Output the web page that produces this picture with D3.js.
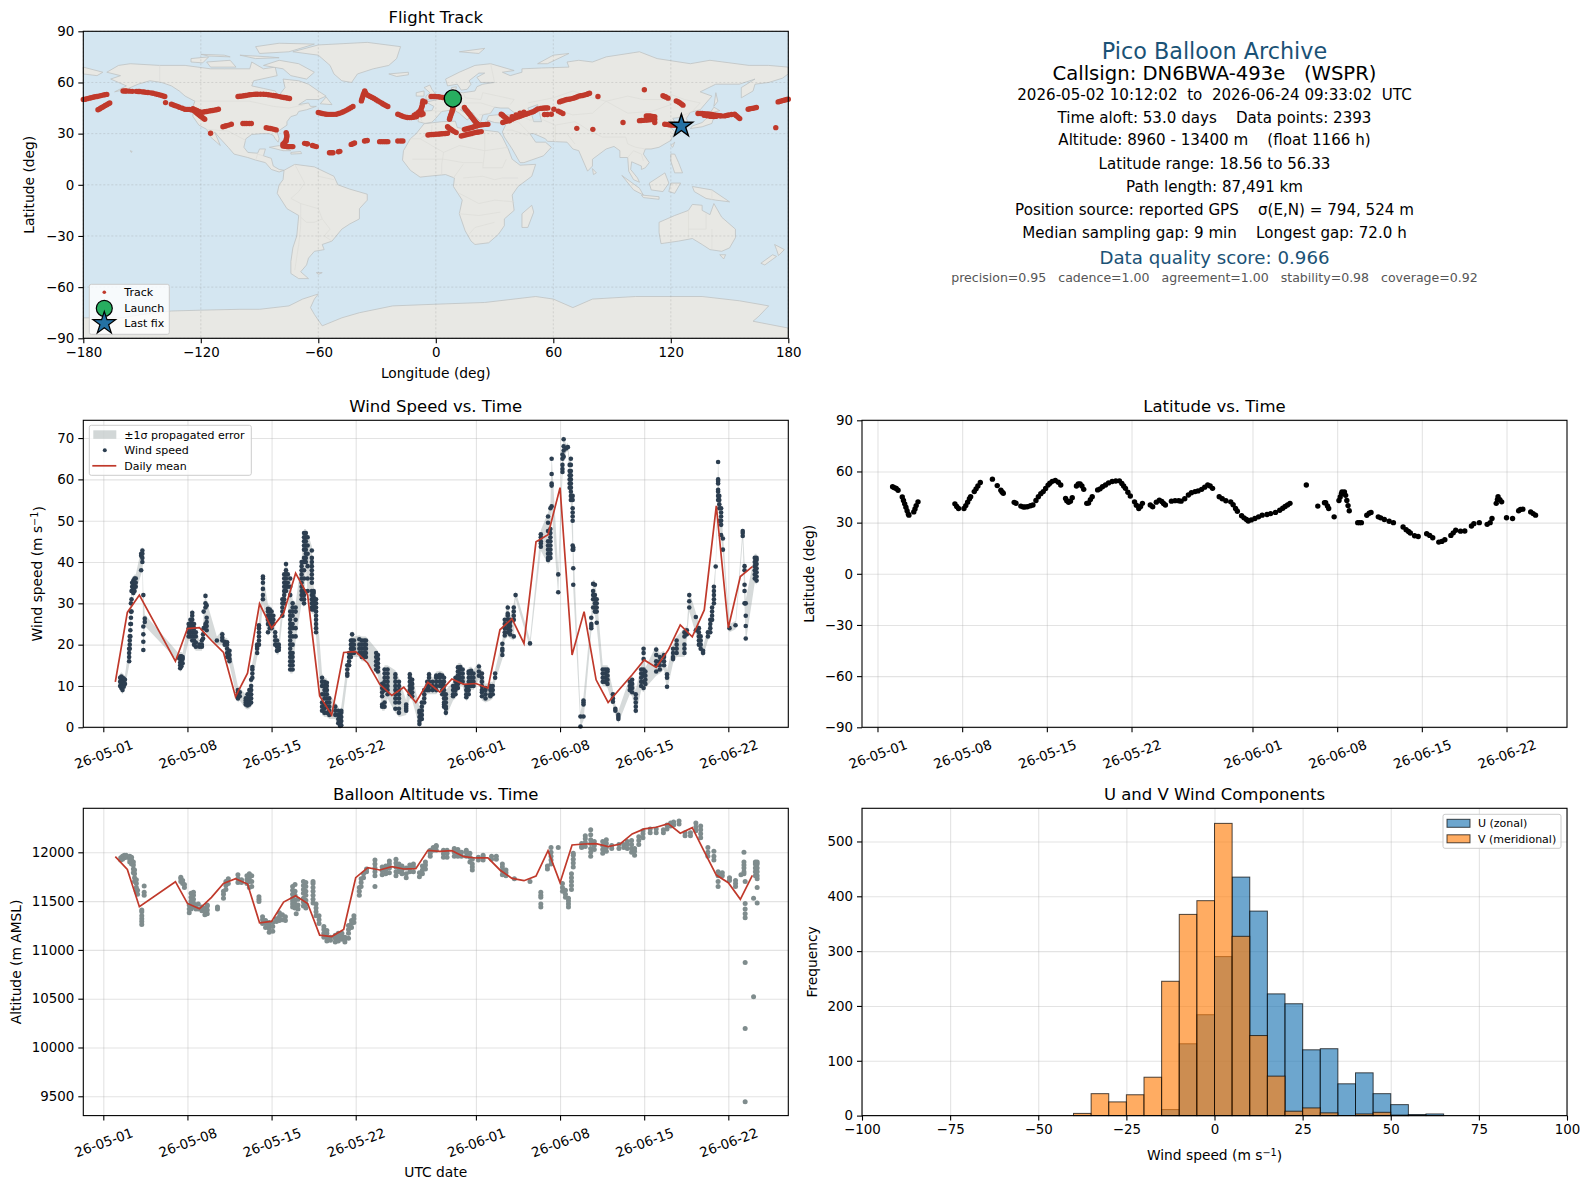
<!DOCTYPE html>
<html>
<head>
<meta charset="utf-8">
<script src="https://cdn.jsdelivr.net/npm/d3@7"></script>
<style>
  body { margin: 0; background: #fff; }
  svg { display: block; }
  text { font-family: "DejaVu Sans", sans-serif; fill: #000; white-space: pre; }
  .axis text { font-size: 13.4px; }
  .axis path, .axis line { stroke: #000; stroke-width: 1.1; }
  .grid line { stroke: #b0b0b0; stroke-opacity: 0.35; stroke-width: 1.1; }
  .grid path { display: none; }
  .grid text { display: none; }
  .title { font-size: 16.5px; text-anchor: middle; }
  .label { font-size: 13.8px; text-anchor: middle; }
  .legendText { font-size: 11px; }
  .legendBox { fill: #fff; fill-opacity: 0.8; stroke: #ccc; stroke-width: 1; }
</style>
</head>
<body>
<svg id="chart" width="1590" height="1189"></svg>
<script>
// ---- data ----
// wind speed columns: [day since 05-01, [speeds]]
const windColumns = [
  [1.4,[10,11,12]],[1.5,[9.5,10.5,11.5,12.3]],[1.6,[9,10,11,12]],[1.7,[9.8,10.8,11.8]],[1.8,[10.5,11.5]],
  [2.15,[16,17,18,19]],[2.2,[19,20,21,22]],[2.25,[22,23.5,25]],[2.3,[25,26.5,28,30]],[2.35,[28,31,33]],[2.4,[33,34,35]],[2.5,[32.5,33.5,34.5,35.5]],[2.6,[33,34,35,36]],[2.7,[34,35,36]],
  [3.15,[38,41.5,42]],[3.25,[40,41,42,42.8]],[3.33,[18.7,20.7,22.5,24.4,32]],[3.45,[25.5,26.3]],
  [6.3,[16.8]],[6.4,[14.3,15,15.7,16.5,17.2]],[6.5,[14.8,15.8,16.8,17.2]],[6.6,[15.5,16.5,17]],
  [7.1,[22,23,24,25]],[7.25,[22,23,24,25,26]],[7.4,[21,22,23,24,25,26,27,27.7]],[7.55,[20,21,22,23,24,25]],[7.7,[19.5,20.5,22,23]],
  [8,[19.5,20]],[8.2,[19.5,20,21]],[8.3,[21.5,22.5]],[8.35,[24,28]],[8.5,[24.5,25,29,30,31.8]],[8.6,[23.5,24.5,25.5,26.5,29.5]],
  [9.45,[21]],[9.9,[21,21.7,22.5]],[10.1,[20,20.7]],[10.3,[17,18,19,20,20.6]],[10.5,[16,16.5,17.5,18.5]],
  [11.2,[7,7.5,8,8.5,9]],[11.35,[7.5,8.5]],
  [11.85,[5.5,6,6.5,7]],[12,[5.3,5.8,6.3,7,8]],[12.15,[5.5,6.2,7,8,9]],[12.3,[6,7,8,9,10,11.5]],[12.4,[12,13,14,14.6]],
  [12.8,[18,19,19.5,20]],[12.95,[20,21,22,23,24,24.7]],[13.28,[31,32,33.5,35,36,36.5]],
  [13.7,[23,25,26,27,28,28.7]],[13.85,[24,25,26,27,28,28.5]],[14,[24,25,26,27,28]],[14.15,[25,26,27]],
  [14.3,[20,21,22,23]],[14.45,[18.5,19.5,21]],[14.6,[18.7,19.3,20]],
  [14.9,[27,28,29,30,31]],[15.05,[30,31,32,33,34,35,36,37]],[15.2,[33,34,35,36,37,38,39.5]],[15.35,[34,35,37]],
  [15.55,[14,15,16,17,18,19,20,21,22,23,24,25,26,27,28,32,34,36]],[15.75,[14,15,16,17,18,20,22,24,25,27,28,29,30]],[16,[22,24,26,28,29]],
  [16.5,[31,32,33,34,35,36,37,38,39,40]],[16.7,[30,31,32,33,36,38,40,41,43,44,45,46,47]],[16.85,[40,41,42,43,44,45,46,47]],[17,[33,36,39,42,44,46]],
  [17.35,[28.5,29,30,31,32,33,35,36,37,38,39,40,41,42.8]],[17.5,[28.5,29.5,30.5,31.5,32.5,33]],[17.7,[23,24,25,26,27,28,29,30,31]],
  [18.2,[4,5,6,8,10,11,12]],[18.4,[3.5,4.5,5.5,7,8,9,10,11]],[18.6,[3.5,5,6,7,8,9,10,10.8]],[18.8,[3,4,5,6,7]],
  [19.3,[3,4,5]],[19.55,[1,2,3,4]],[19.7,[0.3,1,2,3]],[19.8,[0.5,1.5,2.5,3.5,4]],
  [20.3,[12.5,13,14,15]],[20.45,[15,16,17,18]],[20.6,[17,18,19,20,21]],[20.7,[18,19,20,21,22.5]],[20.85,[18,19,20,21]],
  [21.3,[18,19,20,21.3]],[21.5,[17,18,19,20,21]],[21.7,[17,18,19,20,21]],[21.85,[17,18,19,20,21]],
  [22.7,[14,15,16,17,18]],[22.85,[13.5,14.5,15.5,16.5,17.5]],
  [23.2,[5,5.5,7.5,8.5,9.5,10.5]],[23.4,[5,6,9,10,11,12,13,14]],[23.65,[8,9,10,11,12,13,14]],
  [24.3,[4.5,6,7,8,9,10,11,12,12.8]],[24.6,[3.5,4.5,6,7,8,9,10,11]],
  [25.2,[4,4.5,5,5.5]],[25.5,[8,9,10,11,12,12.8]],[25.7,[7.5,8.5,9.5,10.5,11.5]],
  [26.3,[0.8,1.5,2.5,3.5,4]],[26.5,[2,3,4,5,6]],[26.7,[6,7,8,9]],
  [26.95,[9,10,11]],[27.1,[9,10,11,12,12.8]],[27.4,[9,10,11]],[27.7,[9,10,11,12,12.5]],[28,[10,11,12,12.7]],
  [28.2,[8,9,10,11,12.5]],[28.35,[5,5.5,6,7,8,9,10,11,12]],[28.5,[3.5,4.5,5,6,7,8]],
  [29.1,[7.5,8,9,10]],[29.3,[8,9,10,11,12]],[29.5,[9.5,10.5,11.5,12.5,13.5,14.5]],[29.7,[11,12,13,14,14.6]],[29.9,[11,12,13,14]],
  [30.2,[7.3,8,9,10]],[30.4,[8,9,10,11,12,13,13.5]],[30.6,[10,11,12,13,13.7]],[30.8,[10,11,12,13]],
  [31.25,[12.5,13.5,14.7]],[31.5,[7.5,8.5,9,10,11,12,13]],[31.8,[7,8,9,9.5]],
  [32.2,[7.5,8,9,10]],[32.4,[8,9,10]],[32.6,[12,13]],
  [33.2,[17.5,18.5,19,20.2]],[33.4,[22.2,23,24,25,26]],[33.65,[23,24,25,26,27,27.5,29]],[33.85,[22.5,23.5,24.5,25.5,26]],
  [34.15,[22,26,27,28,29]],[34.3,[32]],[35.5,[20.3]],
  [36.4,[43.7,44.5,45,46,46.7]],[37,[40.5,41,42,43,44,45,47.5,49.5,51]],[37.2,[41,42,43,44,45,46,47,48,53]],
  [37.3,[53.5,58.5,59,61.3,65]],[37.85,[32.7,37]],
  [38.2,[61.8,62.5,63.5,65,66]],[38.3,[65.5,67,68,69.7]],[38.5,[67.5]],[38.65,[67.8]],
  [38.8,[58,59,60,61,62,63.5]],[38.9,[55,56,57,58,59,60,61,62,63.5,65]],[39.05,[43,44,50,51,52,53,55,56]],[39.1,[34.5,38.5,43,43.5]],
  [39.7,[0.2,2.6]],[39.95,[2.6,5.5,6,6.5]],
  [40.6,[24,24.5,25,26.5]],[40.75,[29,31,32,33,34.7]],[40.9,[28,29,30,31,32,34.5]],[41.05,[25.3,28,29,30,31]],
  [41.55,[11,12,13,14]],[41.75,[11,12,13,14]],[41.95,[10.5,11.5,12.5,13.5,14]],
  [42.4,[6.2,7,8]],[42.6,[4,4.5]],[42.85,[2,2.5,3]],
  [43.8,[9,10,11]],[44,[8.5,9.5,10.5,11.5]],[44.3,[4,5,6,7,8]],
  [44.75,[10,11,12,13,14]],[44.95,[9.5,11,12.5,13,14,16.5,18,19]],[45.1,[10.5,11.5,12.5,13.5]],
  [46,[13.5,15,16,17.5,18.8]],[46.3,[14,15,16,17]],[46.65,[15,16,17,17.5]],[46.9,[9.8,12,12.8]],
  [47.4,[16.5,17,18,19]],[47.7,[18,19,20,21]],[48.35,[18,19,20,22,23]],[48.55,[22.5,23.5]],[48.75,[29,30.5,32]],
  [49.3,[23.5,26.7]],[49.55,[20,21,22,23,24]],[49.7,[19,20,21,22]],[49.9,[18,18.5]],
  [50.3,[22,23]],[50.5,[23,24,25,26]],[50.65,[26,27,28,29]],[50.8,[30,31,32,33,34]],[50.95,[38.9]],
  [51.15,[55,56,57,57.5,59,59.6,60,64.2]],[51.25,[50,53,54,55,56]],[51.4,[46.5,49,50,51,52,53]],[51.55,[43,45.7]],
  [52.1,[24]],[52.6,[24.7]],
  [53.2,[46.3,47,47.5]],[53.35,[30,33,34.5,38,39]],[53.45,[21.5,24.5,27,30]],
  [54.2,[36,37,38,39,40,41]],[54.35,[35.5,36.5,37.5,38.5,39.5,40.5,41]]
]

const windMeanDays = [1,2,3,6,7,8,9,10,11,12,13,14,15,16,17,18,19,20,21,22,23,24,25,26,27,28,29,30,31,32,33,34,35,36,37,38,39,40,41,42,43,44,45,46,47,48,49,50,51,52,53,54]
const windMean = [11,27.8,32,16,23.9,24.1,21,18.1,7.4,13.1,29.9,24,27.6,37.3,32,7.6,3,18.1,18.3,15.5,10.4,7.7,9.7,6,10.9,8.5,11.7,10.4,10.6,9.5,23.6,26.3,20.3,44.9,46.6,58,17.5,28,11.5,6,9.4,12.7,16.3,14.5,18.7,24.8,21.9,28.4,53.6,24.1,36.5,38.9]

// altitude columns: [day, [metres]]
const altColumns = [
  [1.45,[11920,11945]],[1.6,[11930,11960]],[1.75,[11945,11970]],[1.9,[11950,11970]],
  [2.2,[11900,11930,11960]],[2.35,[11880,11920,11950]],[2.5,[11790,11830,11870,11900]],[2.6,[11700,11740,11780,11820]],[2.75,[11600,11640,11680,11720]],[2.85,[11570,11610]],
  [3.2,[11260,11290,11320,11350,11390,11410]],[3.4,[11560,11590,11655]],
  [6.45,[11700,11730,11745]],[6.6,[11680,11710]],[6.75,[11640,11670]],
  [7.15,[11380,11420,11460]],[7.3,[11420,11460,11500,11540,11580]],[7.5,[11440,11480,11520,11560,11590]],
  [7.7,[11420,11460]],[7.9,[11420,11470]],[8.2,[11400,11440]],[8.45,[11360,11400,11430]],[8.65,[11370,11410,11450,11460]],
  [9.5,[11420,11440]],[10,[11530,11570,11600]],[10.2,[11620,11660,11700]],[10.4,[11680,11730]],
  [11.2,[11690,11730,11770]],[11.5,[11690,11720]],[11.95,[11680,11720,11760]],[12.15,[11640,11700,11740,11780]],[12.35,[11650,11700,11760]],
  [12.95,[11495,11520,11545]],[13.25,[11270,11310,11340]],[13.5,[11230,11270,11300]],[13.8,[11180,11220,11250,11280]],[14.1,[11190,11240,11280]],
  [14.4,[11290,11320]],[14.65,[11300,11340,11380]],[14.9,[11310,11360]],[15.15,[11300,11340]],
  [15.75,[11440,11470,11500,11530,11570,11610,11650]],[15.95,[11430,11470,11510,11560,11600,11670]],[16.05,[11370]],[16.2,[11420,11460,11520]],
  [16.65,[11450,11490,11530,11580,11620,11660,11700]],[16.85,[11430,11470,11510,11560,11600,11650,11690]],
  [17.45,[11480,11520,11560,11600,11640,11680,11700]],[17.7,[11350,11390,11430,11470]],[17.95,[11270,11310,11350]],
  [18.35,[11130,11170,11210,11240]],[18.6,[11090,11130,11170,11200]],[18.9,[11100,11130]],
  [19.3,[11080,11120,11150]],[19.55,[11090,11130,11170]],[19.85,[11110,11140,11170]],[20.1,[11080,11110,11130]],
  [20.4,[11120,11170,11210,11250]],[20.65,[11230,11270,11300]],[20.85,[11280,11320,11350]],
  [21.3,[11560,11600,11640]],[21.45,[11650,11690,11730]],[21.65,[11740,11780]],[21.9,[11800,11830]],
  [22.6,[11650,11760,11800,11840,11880,11920]],[23.2,[11770,11810,11850]],[23.5,[11780,11820,11860]],[23.8,[11790,11840,11880,11910]],
  [24.35,[11760,11800,11850,11890,11930]],[24.6,[11800,11840,11880]],[24.85,[11780,11820,11860]],
  [25.2,[11740,11780,11840]],[25.5,[11800,11840,11870]],[25.8,[11800,11850,11880]],
  [26.3,[11750,11790]],[26.55,[11780,11820,11860]],[26.8,[11830,11870,11900]],
  [27.2,[11960,11990,12020]],[27.45,[12020,12050]],[27.7,[12020,12060,12070]],
  [28.3,[11950,11985,12020]],[28.6,[11950,11990,12020]],[29.2,[11960,12000,12040]],[29.5,[11960,11990,12030]],[29.8,[11960,12000]],
  [30.2,[11960,12000,12020]],[30.5,[11900,11950,11990]],[30.7,[11820,11850,11880,11930]],
  [31.2,[11920,11950]],[31.6,[11920,11950,11970]],[32.3,[11930,11960]],[32.7,[11930,11960]],
  [33.2,[11770,11810,11850,11880]],[33.5,[11760,11790,11820]],[34.2,[11730]],[35.5,[11700]],
  [36.4,[11440,11470,11540,11560,11590]],[36.95,[11830,11860]],[37.25,[11880,11920,11960,12000,12050]],[37.85,[12050]],
  [38.2,[11600,11640,11680]],[38.45,[11540,11570,11610]],[38.7,[11440,11470,11500,11530]],
  [38.95,[11620,11660,11700,11740,11780]],[39.1,[11850,11890,11930,11970,11990]],
  [39.8,[12050,12060,12090]],[40.1,[12060,12100,12140,12170]],[40.55,[11960,12000,12040,12090,12130,12180,12230]],[40.85,[12030,12070,12110]],
  [41.55,[11990,12030,12070,12110]],[41.85,[12010,12050,12090,12130]],[42.3,[12040,12070]],[42.9,[12040,12080]],[43.3,[12050,12080]],
  [43.6,[12040,12080,12110]],[43.95,[12000,12040,12080,12120]],[44.2,[11970,12010,12040]],
  [44.55,[12080,12120,12160]],[44.9,[12150,12190,12220]],[45.5,[12200,12240]],[46,[12200,12240]],
  [46.6,[12200,12230]],[46.9,[12240,12280]],[47.2,[12270,12300]],[47.45,[12280,12310]],[47.9,[12290,12320]],
  [48.4,[12170,12200]],[48.85,[12170,12200]],[49.3,[12220,12260,12300]],[49.7,[12150,12190,12230,12270]],
  [50.3,[11960,12000,12050]],[50.8,[11920,11960,12010]],[51.15,[11650,11700,11760,11800]],[51.5,[11760,11790]],
  [52.1,[11710,11740]],[52.6,[11650,11680,11710]],[53.05,[11770]],
  [53.3,[11780,11800,11840,11870,11900,12000]],[53.4,[9445,10195,10870,11330,11370,11420,11475,11700]],
  [54.1,[10519,11528]],[54.25,[11760,11800,11840,11880,11900]],[54.4,[11480,11640,11730,11760,11800,11840,11880,11900]]
]

const altMeanDays = windMeanDays
const altMean = [11955,11825,11442,11699,11476,11421,11538,11682,11730,11675,11278,11292,11490,11555,11476,11151,11137,11209,11740,11843,11819,11853,11829,11832,12020,12010,12017,11955,11942,11942,11819,11733,11709,11757,12017,11689,12075,12085,12089,12058,12085,12188,12240,12257,12294,12195,12253,12007,11767,11689,11518,11764]

// latitude: [day, deg]
const latPoints = [
  [1.25,51],[1.4,50.5],[1.55,50],[1.7,49],[2.05,45],[2.15,43],[2.25,41],[2.35,39],[2.45,37],[2.55,35],[2.6,34.4],[3,36.3],[3.1,38],[3.2,40],[3.35,42.2],
  [6.4,41],[6.55,39.5],[6.7,38.3],[7.15,38.3],[7.3,40],[7.45,42],[7.6,44],[7.7,45.2],[8,48.2],[8.15,49.8],[8.3,51.5],[8.5,53.5],
  [9.5,55.5],[9.9,51.7],[10.2,49],[10.3,48],[10.4,47.2],[11.3,41.9],[11.45,41.4],[11.85,39.7],[12.05,39.2],[12.2,39.2],[12.4,39.3],
  [12.65,39.9],[12.85,40.3],[13.1,43],[13.3,45.2],[13.5,47],[13.7,48.2],[13.9,50],[14.1,52],[14.25,53.1],[14.45,54.2],[14.7,54.7],[14.95,53.7],[15.15,52.1],
  [15.55,44.2],[15.65,42.8],[15.8,41.9],[15.95,42.6],[16.1,44.6],[16.45,51.5],[16.6,52.7],[16.75,52.7],[16.9,51.5],[17.05,49.5],
  [17.3,41.3],[17.45,41.5],[17.6,43.5],[17.75,45.2],[18.2,49.2],[18.4,49.8],[18.6,51],[18.85,52.1],[19.1,53.3],[19.4,54.1],[19.7,54.4],[20,54.5],[20.2,53],[20.35,51.5],[20.5,50.1],[20.7,47.8],[20.9,45.6],
  [21.25,42.2],[21.4,40.2],[21.6,38.3],[21.75,39.5],[21.9,41.3],[22.55,40.3],[22.75,39.3],[23.05,42],[23.3,43.2],[23.5,42.4],[23.65,41.2],[23.8,40.3],
  [24.3,42.6],[24.6,42.9],[24.9,42.8],[25.1,42.6],[25.4,44],[25.7,46.2],[25.95,47.5],[26.25,48.2],[26.5,48.6],[26.8,49.5],[27.05,50.8],[27.3,52.1],[27.5,51.5],[27.7,50.1],
  [28.25,45.2],[28.5,44],[28.8,42.8],[29.2,42.2],[29.4,40.5],[29.6,38.3],[29.75,36.7],[30.1,34],[30.3,32.8],[30.5,31.8],[30.65,31],[30.9,31.6],[31.2,32.4],[31.5,33.4],[31.8,34.4],[32.2,34.8],[32.5,35.3],[32.9,36],[33.25,37.3],[33.5,38.4],[33.7,39.5],[33.9,40.4],[34.1,41.3],
  [35.45,52.1],[36.4,39.7],[36.95,41.7],[37.05,41.7],[37.2,39.8],[37.3,38.3],[37.75,33.4],
  [38.15,43],[38.25,45],[38.35,47],[38.4,48],[38.6,48],[38.7,46],[38.8,43],[38.9,40],[39,37],
  [39.7,30],[39.85,30],[40,30],[40.45,34.3],[40.65,35.5],[40.8,36],[41.4,33.4],[41.6,32.8],[41.9,31.8],[42.3,30.8],[42.65,30],
  [43.45,27.4],[43.7,25.8],[43.9,24.8],[44.05,23.9],[44.4,22.3],[44.7,21.9],[45.4,23.5],[45.65,22.5],[45.9,21.1],[46.4,18.6],[46.65,19],[46.9,20],
  [47.4,22.5],[47.6,24],[47.8,25.5],[48.2,25],[48.55,25.1],[49.1,28],[49.3,29.4],[49.75,30],[50.4,29],[50.65,30],[50.8,32.4],
  [51.15,41.3],[51.25,43.5],[51.3,45.2],[51.45,43.5],[51.6,42.2],[52,32.9],[52.5,32.4],[53,37],[53.15,37.7],[53.35,37.9],[54,36.3],[54.2,35.3],[54.4,34.4]
]

// flight track: [lon, lat]
const trackPoints = [
  [-180,50],[-179,50.2],[-178,50.5],[-177,50.8],[-176,51],[-175,51.3],[-174,51.6],[-173,51.8],[-172,52],[-171,52.3],[-170,52.6],[-169,52.8],[-168,53],
  [-172.5,44],[-171.7,44.5],[-171,45],[-170.2,45.5],[-169.5,46],[-168.8,46.5],[-168,47],[-167.2,47.5],[-166.5,48],
  [-159.7,55],[-158.7,55],[-158,55],[-156.5,54.9],[-155,54.8],[-153,54.8],[-152,54.7],[-151.2,54.7],[-150,54.5],[-149,54.4],[-148,54.2],[-147,54.1],[-145.5,53.9],[-144.4,53.7],[-143,53.3],[-142,53],[-141,52.7],[-140,52.4],[-139,52],[-138.4,51.8],[-138,48.2],
  [-135,47.3],[-134,46.8],[-133,46.4],[-132,46],[-131,45.5],[-129.5,44.9],[-128.2,44.3],[-127,44.2],[-126,44.2],[-125,44],[-124,43.9],[-123.2,43.2],[-122.5,42.5],[-121.8,41.8],[-121,41],[-120.2,40.4],[-119.5,39.8],[-118.7,39],[-118,38.4],
  [-124,44.6],[-123,44],[-122,43.6],[-121,43],[-120,42.6],[-119,42.6],[-118,42.8],[-117,43],[-116,43.2],[-115,43.4],[-114,43.6],[-113,43.8],[-112,44],[-111,44.3],
  [-115,30.2],[-108.7,34],[-107.8,34.3],[-107,34.6],[-105.7,35],[-104.4,35.5],[-98.5,35.9],[-97.5,35.9],[-96.5,35.9],[-95.3,35.9],[-94.2,35.9],[-86.6,33.5],[-85.5,33.2],[-84.5,33],[-83.5,32.8],[-82.5,32.5],[-81.5,32.2],
  [-76.4,30.6],[-76.2,29.6],[-76,28.6],[-76.2,27.5],[-76.4,26.5],[-76.4,25.7],[-77.2,24.8],[-78,24],[-78,23.3],[-78,22.7],[-77,22.6],[-76,22.5],[-75.2,22.4],[-74.5,22.4],[-73.7,22.4],[-73,22.4],[-67,24.3],[-66,24.1],[-65.5,24],[-63,23],[-62,22.7],[-61,22.4],
  [-54.3,18.8],[-53.4,18.8],[-52.5,18.8],[-49.7,19.4],[-49,19.6],[-43.2,23.7],[-42.3,24.1],[-41.5,24.5],[-36.4,25.7],[-35.6,25.9],[-35,26],[-28.7,25.3],[-27.6,25.3],[-26.5,25.3],[-25.5,25.3],[-24.5,25.3],[-19.4,25.7],[-18,25.7],[-16.8,25.7],
  [-4,29.2],[-3,29.4],[-2,29.5],[-1,29.5],[0,29.6],[1,29.7],[2,29.8],[3,29.9],[4,30],[5,30.1],[6,30.2],
  [-101,51.8],[-100,51.9],[-99,52],[-98,52.2],[-97,52.4],[-96,52.6],[-95,52.8],[-94,52.9],[-93,53],[-92,53.1],[-91,53.1],[-89.5,53.1],[-88,53.1],[-86.7,53],[-85.5,52.8],[-84.2,52.6],[-83,52.4],[-82,52.2],[-81,52],[-79.7,51.7],[-78.5,51.4],[-77.5,51.2],[-76.5,51],[-75.5,50.8],[-74.7,50.6],
  [-60,42.4],[-59,42.1],[-58,41.8],[-57,41.6],[-56,41.4],[-55,41.3],[-54,41.3],[-53,41.3],[-52,41.3],[-50.8,41.4],[-49.6,41.8],[-48.5,42.2],[-47.5,42.7],[-46.5,43.2],[-45.5,43.8],[-44.5,44.5],[-43.4,45.2],[-42.3,45.9],
  [-38,49.2],[-37.8,50],[-37.5,51],[-37.2,52],[-37,53],[-36.6,54],[-36.3,55],[-35.9,54],[-35.5,53.1],[-34.5,52.4],[-33.5,51.8],[-32.5,51.2],[-31.5,50.6],[-30.5,49.9],[-29.5,49.2],[-28.5,48.5],[-27.5,47.8],[-26.8,47.3],[-26,46.8],[-25.2,46.3],[-24.5,45.9],
  [-19.4,41.4],[-18.5,41],[-17.5,40.5],[-16.5,40],[-15.5,39.7],[-14.5,39.5],[-13.4,39.4],[-12.5,39.5],[-11.5,39.6],[-10.6,39.8],[-9.8,40],[-9,41],[-8.3,41.4],[-8.8,42.5],[-7.2,42.5],[-8,43.4],[-7.5,44.5],[-7.2,45.5],[-6.9,46.5],[-6.8,47.8],[-6.6,49.2],[-5.5,48.6],[-10,41.5],[-11,40.8],[-7.5,41],[-6.5,41.5],
  [-2.4,51.8],[-1.4,51.8],[-0.5,51.8],[0.5,51.7],[1.5,51.6],[2.5,51.4],[3.6,51.2],[4.5,51.1],[5.5,51],[6.3,50.8],[7,50.6],
  [8.7,45.5],[8.7,44.3],[8.4,43.4],[8.2,42.6],[7.8,41.4],[7.5,40.4],[7.2,39.4],[7,38.4],[6,34.1],[6.5,33.5],[7,33],[7.8,32.4],[8.5,31.8],[9.5,31.2],[10.4,30.6],
  [13,28.6],[14,28.9],[15,29.2],[16,29.5],[17,29.8],[18,30],[19,30.3],[20,30.6],[21,30.8],[22,31],[23.2,31.2],
  [14.6,45.3],[15,44.5],[15.5,43.8],[16,43.1],[16.5,42.4],[17,41.7],[17.5,41],[18,40.2],[18.5,39.5],[19,38.7],[19.5,38],[20,37.3],[20.5,36.6],[21,36],[21.5,35.5],
  [14.6,32.5],[15.5,32.7],[16.5,33],[17.5,33.3],[18.5,33.6],[19.5,34],[20.5,34.4],[21.5,34.7],[22.5,35],[23.5,35.2],[24.5,35.3],[25.5,35.4],[26.6,35.5],
  [33.4,41.4],[34,40.9],[34.5,40.4],[35.2,39.7],[36,39],[36.8,38.2],[37.6,37.5],[34.2,36.5],[35,36.9],[36,37.2],[37,37.6],[38,38],[39,38.5],[40,39],[41,39.4],[42,39.8],[43,40.2],[44,40.6],[45,41],[46,41.4],[47,41.8],[48,42.2],[49,42.6],[50,43],[51,43.7],[52,44.4],[53.5,44.8],[54.5,44.9],[55.5,45],[56.4,45],[57.2,45.1],[39,40],[41,41],[43,42],[45,42.5],
  [55.5,41.2],[57,41.2],[59,41.4],[60.3,44.3],[62.5,43.2],[63.7,42.5],[64.9,41.8],
  [63.2,48.6],[64,49],[65,49.3],[66,49.7],[67,50],[68,50.2],[69,50.4],[70,50.7],[71,51],[72,51.5],[73,52],[74,52.2],[75,52.4],[76,52.7],[77,53],[77.8,53.4],[78.5,53.7],[82.8,51.8],
  [72,33.1],[80.2,32.5],[95.6,36.5],
  [104,37.6],[105,37.7],[106,37.8],[107,37.9],[108,38],[109,38.1],[110,38.2],[111,38.3],[111.8,38.4],[107.5,40.4],[108.5,40.3],[109.5,40.3],[110.7,40.1],[111.8,40],[111.8,36.5],
  [106.5,55.7],[116,52.2],[116.8,51.8],[117.5,51.5],[118.6,50.8],[122.8,49.2],[123.7,48.7],[124.5,48.1],[125.4,47.4],[126.2,46.7],
  [116.9,35.5],[118,35.4],[119,35.2],[120,35.1],[120.8,35],[121.8,34.9],[122.8,34.9],
  [133.9,41.8],[135,41.8],[136,41.8],[137,41.7],[138,41.6],[139,41.5],[140,41.4],[141,41.2],[142,41],[143,40.8],[144,40.6],[145,40.5],[145.8,40.4],[137,40.8],[138.5,40.5],[140,40.2],[141,40.1],[142,40],[143,40.1],
  [147.5,40.4],[148.5,40.7],[149.5,40.9],[151,41.2],[152.6,41.4],[153.3,40.7],[154,40],[154.6,39.4],[155.2,38.8],
  [159.5,44.3],[160.5,44.6],[161.5,44.8],[162.6,45],[163.7,45.3],[174.8,48.6],[175.6,48.9],[176.5,49.2],[177.4,49.5],[178.3,49.7],[179.2,50],[180,50.2],[173.6,33.5]
]

const launchPoint = [8.7, 50.6]
const lastFixPoint = [125.4, 34.5]

// land outlines [lon, lat], drawn by eye for the base map
const landPolygons = [
  [[-168,66],[-162,70],[-156,71],[-141,70],[-128,70],[-115,68],[-108,68],[-95,68],[-94,72],[-88,68],[-82,69],[-81,64],[-93,61],[-94,58],[-88,56.5],[-82,55],[-80,51.5],[-79,54],[-77,57],[-78,62],[-70,61],[-65,59],[-60,55],[-56,52],[-60,50],[-66,50],[-70,47],[-65,48],[-64,46],[-61,46],[-66,44],[-70,43],[-71,41],[-74,40],[-76,37],[-76,35],[-81,31],[-80,27],[-80.5,25],[-82,27],[-83,29],[-85,30],[-89,30],[-94,29.5],[-97,27],[-98,22],[-96,19],[-91,18.5],[-90,21],[-87,21],[-88,17],[-84,15.5],[-83,11],[-80,9],[-77.5,8.5],[-80,7.5],[-84,9],[-87,13],[-92,14.5],[-96,16],[-103,18],[-106,22],[-110,27],[-113,31],[-110,23],[-112,25],[-115,28],[-117,32.5],[-121,35],[-124,40],[-124,46],[-123,49],[-128,52],[-131,55],[-135,58],[-140,60],[-146,61],[-152,59],[-158,56],[-164,54.5],[-158,58],[-162,60],[-166,62],[-161,64],[-168,66]],
  [[-73,78],[-60,82],[-35,83.5],[-18,81],[-20,74],[-24,70],[-32,68],[-40,65],[-43,60],[-48,61],[-52,65],[-54,70],[-60,76],[-73,78]],
  [[-80,73],[-70,71],[-62,66],[-66,62],[-74,64],[-78,68],[-88,70],[-80,73]],
  [[-117,72],[-105,73],[-102,69],[-115,69],[-117,72]],
  [[-90,77],[-75,78],[-62,82.5],[-80,83],[-92,81],[-90,77]],
  [[-125,74],[-116,75],[-119,71.5],[-125,72],[-125,74]],
  [[-100,76],[-85,75],[-80,74.5],[-92,74],[-100,76]],
  [[-120,76.5],[-108,76],[-105,75],[-116,75.5],[-120,76.5]],
  [[-59,47.5],[-53,47],[-56,51.5],[-59,47.5]],
  [[-85,22],[-80,23],[-74,20],[-78,20],[-85,22]],
  [[-74,19],[-69,19.5],[-68.5,18.3],[-74,18],[-74,19]],
  [[-156,20],[-155,19.5],[-155.5,19],[-156,20]],
  [[-77.5,8.5],[-72,12],[-62,10.5],[-52,5],[-50,0],[-44,-2.5],[-35,-5.5],[-35,-9],[-39,-14],[-39,-20],[-44,-23],[-48,-26],[-53,-33],[-58,-35],[-57,-38],[-62,-39],[-65,-43],[-66,-47],[-69,-51],[-65,-55],[-70,-55],[-74,-52],[-74,-45],[-73,-37],[-71,-30],[-70,-18],[-76,-14],[-81,-5],[-80,0],[-78,3],[-77.5,8.5]],
  [[-6,35.8],[3,37],[10,37.3],[11,33.5],[20,32],[25,32],[32,31],[34,28],[37,21],[39,15],[43,11.5],[51,12],[49,5],[42,-1],[39,-6],[40,-15],[35,-20],[35,-24],[32,-29],[27,-34],[20,-35],[18,-33],[15,-27],[12,-17],[13.5,-9],[9,-1],[9.5,4],[5,6],[-4,5],[-8,4.5],[-13,8.5],[-17,14.5],[-16.5,20],[-13,27],[-10,30],[-6,35.8]],
  [[-9,37],[-9,43],[-2,43.5],[-1,46],[-5,48.5],[1,50],[4,52],[8,54],[8,57],[10.5,57.5],[10,54.5],[14,54],[20,55],[21,57.5],[24,59],[30,60],[23,60],[21,63],[25,65.5],[22,65.5],[17,61],[18,59],[16,56],[13,55.5],[11,59],[6,58],[5,62],[12,66],[20,70],[28,71],[40,67],[34,66],[38,64],[44,66],[44,68],[54,68.5],[68,69],[67,72],[73,73],[80,72],[87,75],[104,78],[113,74],[130,71],[140,73],[160,70],[170,70],[180,69],[180,65],[177,62.5],[170,60],[163,59],[162,55],[156,51],[156,57],[163,62],[155,59],[143,59],[135,54.5],[141,52],[135,44],[130,42.5],[128,39],[129,35.5],[126,34.5],[126,37.5],[125,39.5],[121,39],[122,37],[119,35],[122,31],[120,26],[114,22],[110,21],[107,21],[106,18],[109,13],[107,10],[105,9],[105,11],[100,13.5],[99.5,9],[103,4],[104,1.5],[101,3],[98.5,8],[98,16],[94,16],[94,20],[91,22.5],[87,21],[80,15],[80,11],[77.5,8],[73,20],[70,21],[67,25],[57,25.5],[56,27],[50,30],[48,30],[51,25],[56,25],[59,22],[55,17],[45,13],[43,13],[39,21],[35,28],[34,31],[36,36],[30,36.5],[26,38],[27,40.5],[31,41],[38,41],[41,41.5],[37,45],[33,45],[30,45.5],[28,42],[24,41],[23,37],[20,40],[19,42],[14,45],[12.5,44],[18,40],[16,38],[12,42],[9,44],[3,43],[0,39],[-2,36.7],[-5.5,36],[-9,37]],
  [[-180,65],[-173,64],[-170,66],[-180,69],[-180,65]],
  [[-5,50],[1,51],[0,53],[-2,56],[-3,58.5],[-6,57],[-3,54],[-5,52],[-5,50]],
  [[-10,52],[-6,52],[-6,55],[-10,54],[-10,52]],
  [[-24,65],[-14,66],[-14,64.5],[-20,63.5],[-24,65]],
  [[12,78],[25,80],[22,77],[12,78]],
  [[52,71],[60,76],[68,77],[57,71],[52,71]],
  [[142,46],[143,54],[144,49],[142,46]],
  [[130,33],[136,34],[141,36],[142,40],[140,41],[136,36.5],[131,34.5],[130,33]],
  [[140,42],[145,43.5],[142,45.5],[140,42]],
  [[120,23],[122,25],[121,22],[120,23]],
  [[120,18],[122,18],[124,13],[126,7],[122,7],[120,14],[120,18]],
  [[109,1],[117,7],[119,1],[116,-4],[110,-3],[109,1]],
  [[95,5.5],[104,-2],[106,-6],[101,-3],[95,5.5]],
  [[105,-6],[114,-7],[114,-8.5],[106,-7.5],[105,-6]],
  [[120,1],[125,1],[122,-5],[119,-4],[120,1]],
  [[131,-1],[141,-3],[150,-10],[143,-9],[138,-8],[132,-4],[131,-1]],
  [[114,-22],[122,-18],[129,-15],[131,-11.5],[136,-12],[136,-15],[140,-17.5],[142,-11],[146,-19],[153,-26],[153,-31],[150,-37],[146,-39],[140,-38],[136,-35],[131,-31.5],[124,-33],[115,-34.5],[114,-28],[114,-22]],
  [[145,-41],[148,-41],[147,-43.5],[145,-41]],
  [[173,-35],[178,-38],[175,-41.5],[174,-38],[173,-35]],
  [[172,-41],[174,-42],[168,-47],[166,-46],[172,-41]],
  [[49,-12],[50,-16],[47,-25],[44,-25],[44,-17],[49,-12]],
  [[80,9.5],[82,7],[80.5,6],[80,9.5]],
  [[-61,-51.5],[-58,-51.5],[-60,-52.5],[-61,-51.5]],
  [[-180,-90],[-180,-78],[-160,-78],[-150,-76],[-135,-74],[-120,-73.5],[-100,-73],[-90,-73],[-75,-71],[-68,-67],[-60,-64],[-62,-67],[-64,-72],[-62,-76],[-58,-82.7],[-48,-78],[-39,-75],[-22,-71],[0,-70],[25,-69],[51,-65.5],[60,-67],[70,-72],[80,-67],[102,-65.5],[136,-65.5],[155,-68],[170,-71],[165,-77],[162,-80],[180,-84],[180,-90],[-180,-90]]
]

const waterPolygons = [
  [[47,45],[52,47],[53,42],[54,37],[50,37],[49,41],[47,45]]
]

const borderLines = [
  [[-123,49],[-95,49],[-83,46],[-75,45],[-67,47]],[[-141,70],[-141,60]],[[-117,32.5],[-106,31.5],[-97,26]],
  [[-92,14.5],[-91,18],[-88,17]],[[-72,12],[-67,1],[-70,-4],[-74,-8],[-69,-11],[-69,-17]],[[-60,8],[-60,5],[-52,3]],[[-69,-11],[-60,-14],[-58,-20],[-54,-26],[-57,-30],[-53,-33]],[[-69,-17],[-69,-24],[-70,-35],[-72,-50]],[[-58,-20],[-62,-22],[-66,-22],[-69,-19]],
  [[-13,27],[-8,27],[-2,32],[-2,35]],[[-8,27],[4,19],[12,23],[25,20],[37,22]],[[25,32],[25,20],[24,10],[34,10],[36,15]],[[4,19],[3,12],[3,6]],[[-12,15],[4,15],[14,13],[24,13]],[[9,4],[14,12]],[[14,4],[24,5],[30,3],[34,4],[42,4]],[[12,-5],[22,-11],[30,-9],[40,-10]],[[12,-17],[22,-18],[33,-16]],[[17,-29],[20,-25],[30,-22]],
  [[-2,43.5],[3,43]],[[-9,42],[-7,37]],[[2,51],[8,49],[7,44]],[[8,49],[13,48],[17,48],[23,48],[30,45.5]],[[14,54],[15,51],[23,50],[24,54]],[[24,54],[32,52],[40,50],[38,47]],[[28,71],[30,60]],[[22,41],[28,42]],
  [[41,41.5],[48,38],[55,38],[61,35],[61,25]],[[36,36],[42,37],[48,30]],[[36,32],[39,32],[47,29]],[[61,35],[71,37],[74,35],[78,32],[85,28],[97,28]],[[61,30],[67,30],[71,24]],[[52,42],[58,45],[70,41],[80,42],[87,49]],[[47,48],[60,51],[70,55],[80,51],[87,49],[98,52],[106,50],[118,50],[120,53],[127,50],[135,48],[131,43]],[[87,49],[98,42],[110,43],[120,47],[118,50]],[[97,28],[98,24],[102,22],[107,21]],[[98,16],[101,20],[105,18],[106,14]],[[124.5,40],[130,42.5]],
  [[141,-3],[141,-9]],[[129,-15],[129,-31]],[[138,-17],[138,-26],[129,-26]],[[141,-26],[141,-38]]
]

// histogram of wind components, bin left edges, 5 m/s wide
const binLefts = [-40,-35,-30,-25,-20,-15,-10,-5,0,5,10,15,20,25,30,35,40,45,50,55,60]
const binWidth = 5
const uCounts = [0,0,0,0,0,11,131,184,290,435,373,222,204,120,122,58,78,40,20,2,3]
const vCounts = [4,40,25,38,70,245,367,392,533,327,146,72,8,14,5,0,3,6,1,0,0]

const tickDates = ['2026-05-01','2026-05-08','2026-05-15','2026-05-22','2026-06-01','2026-06-08','2026-06-15','2026-06-22']
const mapLonTicks = [-180,-120,-60,0,60,120,180]
const latTicks = [-90,-60,-30,0,30,60,90]
const windTicks = [0,10,20,30,40,50,60,70]
const altTicks = [9500,10000,10500,11000,11500,12000]
const histXTicks = [-100,-75,-50,-25,0,25,50,75,100]
const histYTicks = [0,100,200,300,400,500]

// ---- layout ----
const red = '#c0392b'
const navy = '#2c3e50'
const grey = '#7f8c8d'
const titleBlue = '#1a5276'
const fmtMinus = d => String(d).replace('-', '\u2212')
const dayToDate = d => new Date(Date.UTC(2026, 4, 1) + d * 864e5)
const parseDay = d3.utcParse('%Y-%m-%d')

const left = { x0: 83.3, x1: 788.3 }
const right = { x0: 862, x1: 1567 }
const row1 = { y0: 31.3, y1: 338.3 }
const row2 = { y0: 420.3, y1: 727.3 }
const row3 = { y0: 808.3, y1: 1115.6 }

const svg = d3.select('#chart')

const makePanel = function(col, row, title) {
  const g = svg.append('g').attr('transform', `translate(${col.x0},${row.y0})`)
  g.w = col.x1 - col.x0
  g.h = row.y1 - row.y0
  g.append('text').attr('class', 'title').attr('x', g.w / 2).attr('y', -8).text(title)
  return g
}

const addGrid = function(g, x, y, xTicks, yTicks) {
  g.append('g').attr('class', 'grid').attr('transform', `translate(0,${g.h})`)
    .call(d3.axisBottom(x).tickValues(xTicks).tickSize(-g.h))
  g.append('g').attr('class', 'grid')
    .call(d3.axisLeft(y).tickValues(yTicks).tickSize(-g.w))
}

const addFrame = function(g) {
  g.append('rect').attr('width', g.w).attr('height', g.h)
    .attr('fill', 'none').attr('stroke', '#000').attr('stroke-width', 1.1)
}

const addYAxis = function(g, y, ticks, fmt) {
  g.append('g').attr('class', 'axis')
    .call(d3.axisLeft(y).tickValues(ticks).tickSize(5).tickPadding(4).tickSizeOuter(0).tickFormat(fmt))
    .select('.domain').remove()
}

const addDateAxis = function(g, x) {
  const axis = g.append('g').attr('class', 'axis').attr('transform', `translate(0,${g.h})`)
    .call(d3.axisBottom(x).tickValues(tickDates.map(parseDay)).tickSize(5).tickSizeOuter(0).tickFormat(d3.utcFormat('%y-%m-%d')))
  axis.select('.domain').remove()
  axis.selectAll('text')
    .attr('y', 0).attr('dy', '0.35em')
    .attr('text-anchor', 'middle')
    .attr('transform', 'translate(0,27) rotate(-20)')
}

const addYLabel = function(g, px, text) {
  return g.append('text').attr('class', 'label')
    .attr('transform', `translate(${px},${g.h / 2}) rotate(-90)`)
    .text(text)
}

const addWindUnit = function(node, prefix) {
  node.text(prefix + ' (m s')
  node.append('tspan').attr('dy', '-0.4em').attr('font-size', '9.7px').text('\u22121')
  node.append('tspan').attr('dy', '0.4em').text(')')
}

const flatten = columns => columns.flatMap(c => c[1].map(v => [c[0], v]))

// ---- flight track map ----
const mapPanel = makePanel(left, row1, 'Flight Track')
const lonX = d3.scaleLinear().domain([-180, 180]).range([0, mapPanel.w])
const latY = d3.scaleLinear().domain([-90, 90]).range([mapPanel.h, 0])
const geoLine = d3.line().x(d => lonX(d[0])).y(d => latY(d[1]))

mapPanel.append('rect').attr('width', mapPanel.w).attr('height', mapPanel.h).attr('fill', '#d4e6f1')
mapPanel.selectAll('.land').data(landPolygons).join('path')
  .attr('class', 'land').attr('d', d => geoLine(d) + 'Z')
  .attr('fill', '#e8e8e4').attr('stroke', '#bfc3c3').attr('stroke-width', 0.8)
mapPanel.selectAll('.water').data(waterPolygons).join('path')
  .attr('class', 'water').attr('d', d => geoLine(d) + 'Z')
  .attr('fill', '#d4e6f1').attr('stroke', '#bfc3c3').attr('stroke-width', 0.8)
mapPanel.selectAll('.border').data(borderLines).join('path')
  .attr('class', 'border').attr('d', geoLine)
  .attr('fill', 'none').attr('stroke', '#dcdcd8').attr('stroke-width', 0.7)

mapPanel.append('g').attr('class', 'mapGrid').selectAll('line').data(mapLonTicks).join('line')
  .attr('x1', d => lonX(d)).attr('x2', d => lonX(d)).attr('y1', 0).attr('y2', mapPanel.h)
  .attr('stroke', '#888').attr('stroke-opacity', 0.35).attr('stroke-width', 0.7).attr('stroke-dasharray', '2,2')
mapPanel.append('g').attr('class', 'mapGrid').selectAll('line').data(latTicks).join('line')
  .attr('x1', 0).attr('x2', mapPanel.w).attr('y1', d => latY(d)).attr('y2', d => latY(d))
  .attr('stroke', '#888').attr('stroke-opacity', 0.35).attr('stroke-width', 0.7).attr('stroke-dasharray', '2,2')

mapPanel.append('g').selectAll('circle').data(trackPoints).join('circle')
  .attr('cx', d => lonX(d[0])).attr('cy', d => latY(d[1])).attr('r', 2.7).attr('fill', red)

mapPanel.append('circle').attr('cx', lonX(launchPoint[0])).attr('cy', latY(launchPoint[1])).attr('r', 8.6)
  .attr('fill', '#27ae60').attr('stroke', '#000').attr('stroke-width', 1.4)
const starPath = d3.symbol().type(d3.symbolStar).size(160)
mapPanel.append('path').attr('d', starPath)
  .attr('transform', `translate(${lonX(lastFixPoint[0])},${latY(lastFixPoint[1])})`)
  .attr('fill', '#2471a3').attr('stroke', '#000').attr('stroke-width', 1.4)

addFrame(mapPanel)
addYAxis(mapPanel, latY, latTicks, fmtMinus)
const mapAxis = mapPanel.append('g').attr('class', 'axis').attr('transform', `translate(0,${mapPanel.h})`)
  .call(d3.axisBottom(lonX).tickValues(mapLonTicks).tickSize(5).tickPadding(4).tickSizeOuter(0).tickFormat(fmtMinus))
mapAxis.select('.domain').remove()
mapPanel.append('text').attr('class', 'label').attr('x', mapPanel.w / 2).attr('y', mapPanel.h + 40).text('Longitude (deg)')
addYLabel(mapPanel, -49, 'Latitude (deg)')

// map legend
const mapLegend = mapPanel.append('g').attr('transform', 'translate(6,253)')
mapLegend.append('rect').attr('class', 'legendBox').attr('width', 80).attr('height', 50).attr('rx', 2)
mapLegend.append('circle').attr('cx', 15).attr('cy', 8).attr('r', 1.8).attr('fill', red)
mapLegend.append('circle').attr('cx', 15).attr('cy', 24).attr('r', 8).attr('fill', '#27ae60').attr('stroke', '#000').attr('stroke-width', 1.2)
mapLegend.append('path').attr('d', starPath).attr('transform', 'translate(15,39)')
  .attr('fill', '#2471a3').attr('stroke', '#000').attr('stroke-width', 1.2)
mapLegend.selectAll('text').data(['Track', 'Launch', 'Last fix']).join('text')
  .attr('class', 'legendText').attr('x', 35).attr('y', (d, i) => 12 + i * 15.5).text(d => d)

// ---- summary text ----
const infoLines = [
  { t: 'Pico Balloon Archive', y: 50.7, size: 22.3, c: titleBlue },
  { t: 'Callsign: DN6BWA-493e   (WSPR)', y: 73, size: 19.6, c: '#000' },
  { t: '2026-05-02 10:12:02  to  2026-06-24 09:33:02  UTC', y: 94.3, size: 15.1, c: '#000' },
  { t: 'Time aloft: 53.0 days    Data points: 2393', y: 117.6, size: 15.1, c: '#000' },
  { t: 'Altitude: 8960 - 13400 m    (float 1166 h)', y: 140, size: 15.1, c: '#000' },
  { t: 'Latitude range: 18.56 to 56.33', y: 163.3, size: 15.1, c: '#000' },
  { t: 'Path length: 87,491 km', y: 186.6, size: 15.1, c: '#000' },
  { t: 'Position source: reported GPS    \u03c3(E,N) = 794, 524 m', y: 210, size: 15.1, c: '#000' },
  { t: 'Median sampling gap: 9 min    Longest gap: 72.0 h', y: 232.3, size: 15.1, c: '#000' },
  { t: 'Data quality score: 0.966', y: 257.6, size: 18.2, c: titleBlue },
  { t: 'precision=0.95   cadence=1.00   agreement=1.00   stability=0.98   coverage=0.92', y: 278, size: 12.55, c: '#555' }
]
svg.append('g').selectAll('text').data(infoLines).join('text')
  .attr('x', (right.x0 + right.x1) / 2).attr('y', d => d.y).attr('dy', '0.35em')
  .attr('text-anchor', 'middle').attr('font-size', d => d.size).style('fill', d => d.c)
  .text(d => d.t)

// ---- wind speed vs time ----
const windPanel = makePanel(left, row2, 'Wind Speed vs. Time')
const timeX = d3.scaleUtc().domain([dayToDate(-1.664), dayToDate(56.99)]).range([0, windPanel.w])
const windY = d3.scaleLinear().domain([0, 74.3]).range([windPanel.h, 0])
addGrid(windPanel, timeX, windY, tickDates.map(parseDay), windTicks)

const windArea = d3.area()
  .x(d => timeX(dayToDate(d[0])))
  .y0(d => windY(Math.max(0, d3.min(d[1]) - 1)))
  .y1(d => windY(d3.max(d[1]) + 1))
windPanel.append('path').datum(windColumns).attr('d', windArea)
  .attr('fill', grey).attr('fill-opacity', 0.32)
windPanel.append('g').selectAll('circle').data(flatten(windColumns)).join('circle')
  .attr('cx', d => timeX(dayToDate(d[0]))).attr('cy', d => windY(d[1])).attr('r', 2.3).attr('fill', navy)
windPanel.append('path').datum(windMeanDays.map((d, i) => [d, windMean[i]]))
  .attr('d', d3.line().x(d => timeX(dayToDate(d[0]))).y(d => windY(d[1])))
  .attr('fill', 'none').attr('stroke', red).attr('stroke-width', 1.7)
addFrame(windPanel)
addYAxis(windPanel, windY, windTicks, d => d)
addDateAxis(windPanel, timeX)
addWindUnit(addYLabel(windPanel, -41, ''), 'Wind speed')

const windLegend = windPanel.append('g').attr('transform', 'translate(6,5)')
windLegend.append('rect').attr('class', 'legendBox').attr('width', 162).attr('height', 50).attr('rx', 2)
windLegend.append('rect').attr('x', 4).attr('y', 5).attr('width', 23).attr('height', 8.5).attr('fill', grey).attr('fill-opacity', 0.35)
windLegend.append('circle').attr('cx', 15.5).attr('cy', 25).attr('r', 2).attr('fill', navy)
windLegend.append('line').attr('x1', 3).attr('x2', 27).attr('y1', 40.5).attr('y2', 40.5).attr('stroke', red).attr('stroke-width', 1.7)
windLegend.selectAll('text').data(['\u00b11\u03c3 propagated error', 'Wind speed', 'Daily mean']).join('text')
  .attr('class', 'legendText').attr('x', 35).attr('y', (d, i) => 13.5 + i * 15.5).text(d => d)

// ---- latitude vs time ----
const latPanel = makePanel(right, row2, 'Latitude vs. Time')
const latTimeX = d3.scaleUtc().domain([dayToDate(-1.28), dayToDate(57)]).range([0, latPanel.w])
const latTimeY = d3.scaleLinear().domain([-90, 90]).range([latPanel.h, 0])
addGrid(latPanel, latTimeX, latTimeY, tickDates.map(parseDay), latTicks)
latPanel.append('g').selectAll('circle').data(latPoints).join('circle')
  .attr('cx', d => latTimeX(dayToDate(d[0]))).attr('cy', d => latTimeY(d[1])).attr('r', 2.7).attr('fill', '#000')
addFrame(latPanel)
addYAxis(latPanel, latTimeY, latTicks, fmtMinus)
addDateAxis(latPanel, latTimeX)
addYLabel(latPanel, -48, 'Latitude (deg)')

// ---- altitude vs time ----
const altPanel = makePanel(left, row3, 'Balloon Altitude vs. Time')
const altX = d3.scaleUtc().domain([dayToDate(-1.664), dayToDate(56.99)]).range([0, altPanel.w])
const altY = d3.scaleLinear().domain([9302, 12451]).range([altPanel.h, 0])
addGrid(altPanel, altX, altY, tickDates.map(parseDay), altTicks)
altPanel.append('g').selectAll('circle').data(flatten(altColumns)).join('circle')
  .attr('cx', d => altX(dayToDate(d[0]))).attr('cy', d => altY(d[1])).attr('r', 2.5).attr('fill', grey)
altPanel.append('path').datum(altMeanDays.map((d, i) => [d, altMean[i]]))
  .attr('d', d3.line().x(d => altX(dayToDate(d[0]))).y(d => altY(d[1])))
  .attr('fill', 'none').attr('stroke', red).attr('stroke-width', 1.7)
addFrame(altPanel)
addYAxis(altPanel, altY, altTicks, d => d)
addDateAxis(altPanel, altX)
addYLabel(altPanel, -62, 'Altitude (m AMSL)')
altPanel.append('text').attr('class', 'label').attr('x', altPanel.w / 2).attr('y', altPanel.h + 61).text('UTC date')

// ---- U and V histogram ----
const histPanel = makePanel(right, row3, 'U and V Wind Components')
const histX = d3.scaleLinear().domain([-100, 100]).range([0, histPanel.w])
const histY = d3.scaleLinear().domain([0, 560.5]).range([histPanel.h, 0])
addGrid(histPanel, histX, histY, histXTicks, histYTicks)

const drawBars = function(counts, colour) {
  histPanel.append('g').selectAll('rect').data(binLefts.map((d, i) => [d, counts[i]]).filter(d => d[1] > 0)).join('rect')
    .attr('x', d => histX(d[0])).attr('width', d => histX(d[0] + binWidth) - histX(d[0]))
    .attr('y', d => histY(d[1])).attr('height', d => histPanel.h - histY(d[1]))
    .attr('fill', colour).attr('fill-opacity', 0.65)
    .attr('stroke', '#000').attr('stroke-opacity', 0.7).attr('stroke-width', 1)
}
drawBars(uCounts, '#1f77b4')
drawBars(vCounts, '#ff7f0e')

addFrame(histPanel)
addYAxis(histPanel, histY, histYTicks, d => d)
const histAxis = histPanel.append('g').attr('class', 'axis').attr('transform', `translate(0,${histPanel.h})`)
  .call(d3.axisBottom(histX).tickValues(histXTicks).tickSize(5).tickPadding(4).tickSizeOuter(0).tickFormat(fmtMinus))
histAxis.select('.domain').remove()
addYLabel(histPanel, -45, 'Frequency')
addWindUnit(histPanel.append('text').attr('class', 'label').attr('x', histPanel.w / 2).attr('y', histPanel.h + 44), 'Wind speed')

const histLegend = histPanel.append('g').attr('transform', `translate(${histPanel.w - 124},6)`)
histLegend.append('rect').attr('class', 'legendBox').attr('width', 118).attr('height', 34).attr('rx', 2)
const legendSwatch = [['U (zonal)', '#1f77b4'], ['V (meridional)', '#ff7f0e']]
histLegend.selectAll('.swatch').data(legendSwatch).join('rect')
  .attr('class', 'swatch').attr('x', 4).attr('y', (d, i) => 5 + i * 15.5).attr('width', 23).attr('height', 8)
  .attr('fill', d => d[1]).attr('fill-opacity', 0.65).attr('stroke', '#000').attr('stroke-opacity', 0.7)
histLegend.selectAll('text').data(legendSwatch).join('text')
  .attr('class', 'legendText').attr('x', 35).attr('y', (d, i) => 13 + i * 15.5).text(d => d[0])
</script>
</body>
</html>
